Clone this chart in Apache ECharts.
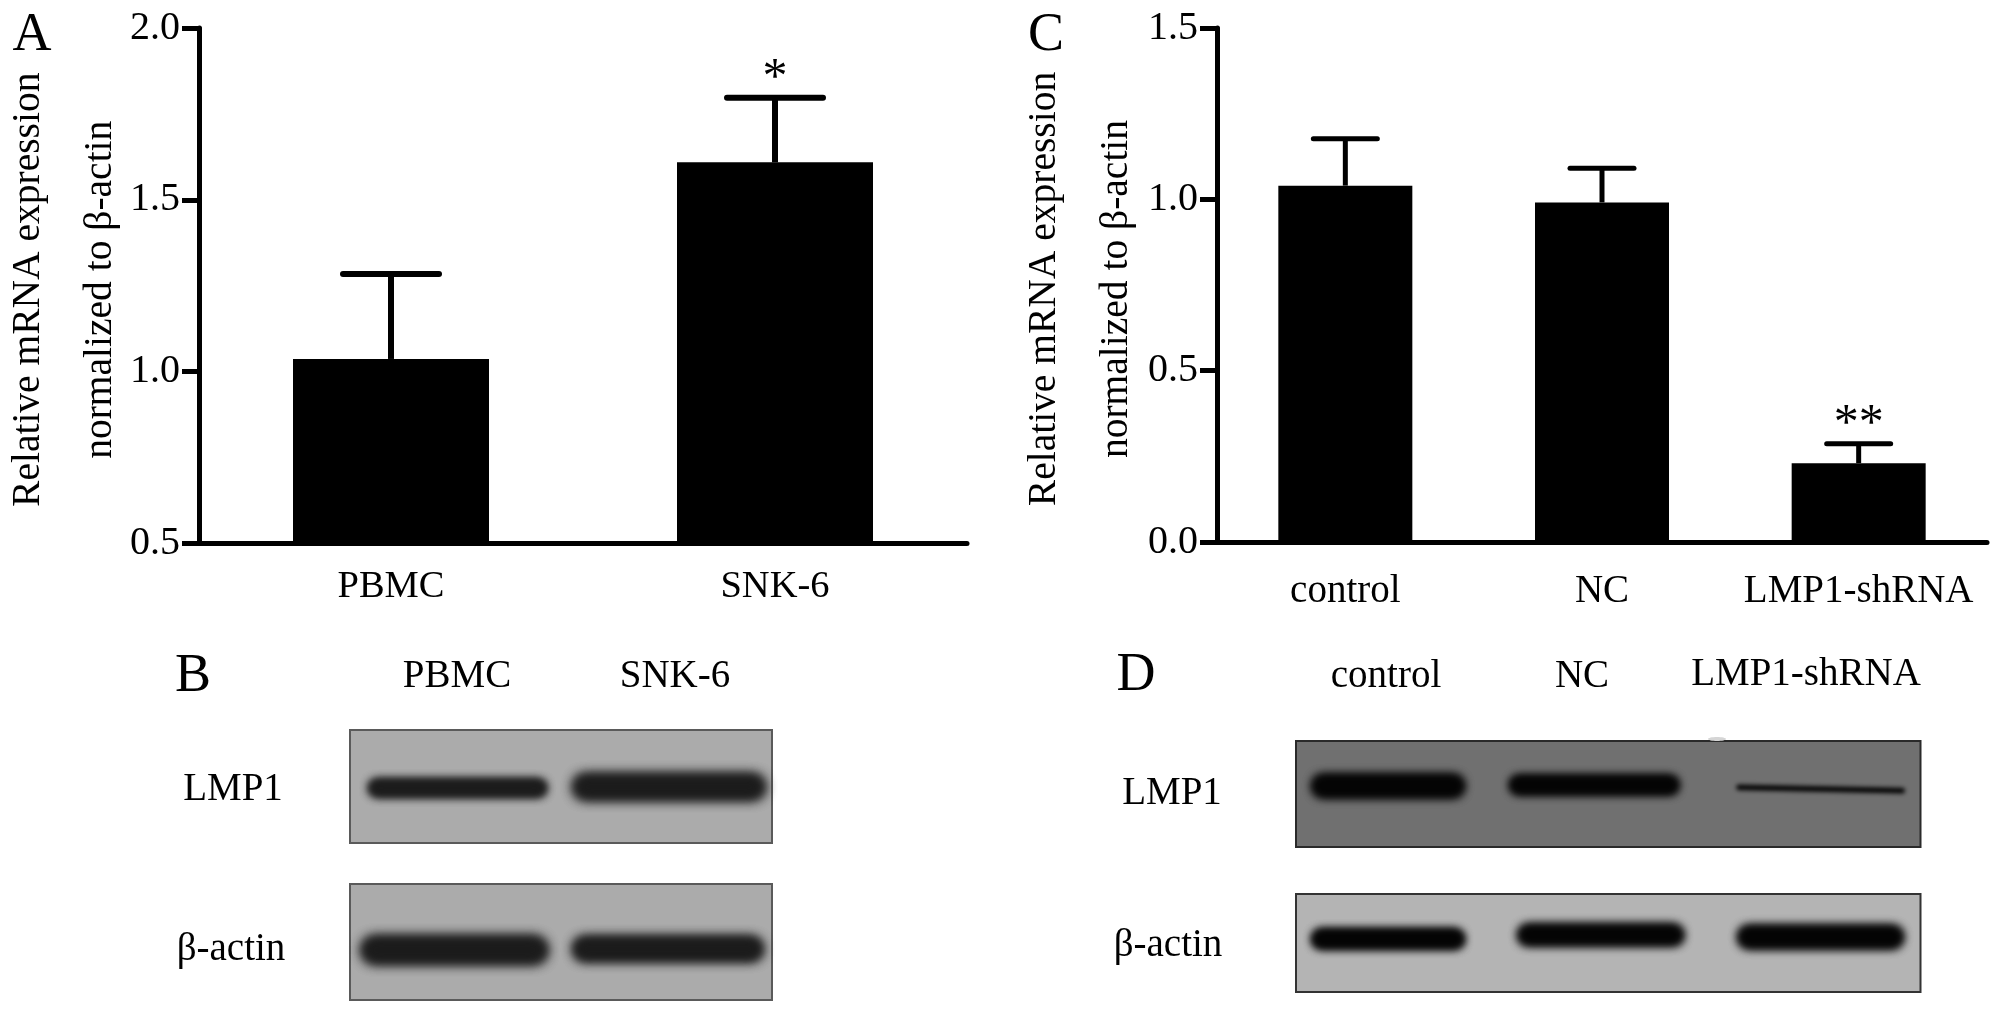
<!DOCTYPE html>
<html><head><meta charset="utf-8">
<style>html,body{margin:0;padding:0;background:#fff}#c{width:2008px;height:1013px}</style>
<script src="https://cdn.jsdelivr.net/npm/echarts@6/dist/echarts.min.js"></script></head>
<body><div id="c"></div>
<script>
// Panel A
const aCategories = ['PBMC', 'SNK-6'];
const aValues = [1.037, 1.609];
const aErrTop = [1.284, 1.797];
const aStars = ['', '*'];
// Panel C
const cCategories = ['control', 'NC', 'LMP1-shRNA'];
const cValues = [1.04, 0.991, 0.23];
const cErrTop = [1.177, 1.091, 0.287];
const cStars = ['', '', '**'];
const yTitle = 'Relative mRNA expression\nnormalized to β-actin';
// Blot bands: [start, end, level, thickness, tilt] as fractions of each blot
const bandsBLmp1 = [[.038,.472,.487,.177,0],[.521,.991,.496,.248,0]];
const bandsBActin = [[.019,.476,.431,.259,0],[.521,.986,.44,.233,0]];
const bandsDLmp1 = [[.021,.274,.575,.236,0],[.338,.617,.585,.198,0],[.703,.977,.547,.06,-.02]];
const bandsDActin = [[.021,.274,.541,.224,0],[.351,.625,.582,.235,0],[.703,.977,.561,.255,0]];

const FONT = '"Liberation Serif", "Times New Roman", serif';
const grids = [], xAxes = [], yAxes = [], series = [];

function barPanel(g, cats, vals, tops, stars, ymin, ymax, barWidth, capHalf, capW, stemW, labelMargin, nameGap, catFont) {
  const i = grids.length;
  grids.push(Object.assign({outerBoundsMode:'none'}, g));
  xAxes.push({gridIndex:i, type:'category', data:cats,
    axisLine:{onZero:false, lineStyle:{color:'#000', width:5}},
    axisTick:{alignWithLabel:true, length:17, lineStyle:{color:'#000', width:5}},
    axisLabel:{color:'#000', fontFamily:FONT, fontSize:catFont, margin:labelMargin, interval:0}});
  yAxes.push({gridIndex:i, type:'value', min:ymin, max:ymax, interval:0.5,
    splitLine:{show:false},
    axisLine:{show:true, lineStyle:{color:'#000', width:5}},
    axisTick:{show:true, length:17, lineStyle:{color:'#000', width:5}},
    axisLabel:{color:'#000', fontFamily:FONT, fontSize:40, margin:19, formatter:v=>v.toFixed(1)},
    name:yTitle, nameLocation:'middle', nameRotate:90, nameGap:nameGap, nameMoveOverlap:false,
    nameTextStyle:{color:'#000', fontFamily:FONT, fontSize:39.5, lineHeight:72, padding:[0,8,0,0]}});
  series.push({type:'bar', xAxisIndex:i, yAxisIndex:i, data:vals, barWidth:barWidth,
    itemStyle:{color:'#000'}, silent:true, animation:false});
  series.push({type:'custom', xAxisIndex:i, yAxisIndex:i, silent:true, animation:false, clip:false,
    data:cats.map((c,k)=>[k, vals[k], tops[k]]),
    encode:{x:0, y:[1,2]},
    renderItem:(p,api)=>{
      const k = api.value(0);
      const base = api.coord([k, api.value(1)]);
      const top = api.coord([k, api.value(2)]);
      const star = stars[k];
      const kids = [
        {type:'line', shape:{x1:top[0], y1:base[1], x2:top[0], y2:top[1]}, style:{stroke:'#000', lineWidth:stemW}},
        {type:'line', shape:{x1:top[0]-capHalf, y1:top[1], x2:top[0]+capHalf, y2:top[1]}, style:{stroke:'#000', lineWidth:capW, lineCap:'round'}}
      ];
      if (star) kids.push({type:'text', style:{text:star, x:top[0], y:top[1]-19, fill:'#000', fontFamily:FONT, fontSize:50, align:'center', verticalAlign:'middle', textAlign:'center', textVerticalAlign:'middle'}});
      return {type:'group', children:kids};
    }});
}

const OFF = 4000;
function blot(rect, bands, bg, border, bandColor) {
  const i = grids.length;
  grids.push(Object.assign({show:true, outerBoundsMode:'none', backgroundColor:bg, borderColor:border, borderWidth:2}, rect));
  xAxes.push({gridIndex:i, type:'value', min:0, max:1, show:false});
  yAxes.push({gridIndex:i, type:'value', min:0, max:1, show:false});
  series.push({type:'custom', xAxisIndex:i, yAxisIndex:i, silent:true, animation:false, clip:false,
    data:bands,
    encode:{x:[0,1], y:2},
    renderItem:(p,api)=>{
      const a = api.coord([api.value(0), api.value(2)]);
      const b = api.coord([api.value(1), api.value(2)]);
      const h = api.size([0, api.value(3)])[1];
      const w = b[0]-a[0];
      const blur = Math.max(4, h*0.4);
      const hh = Math.max(3, h*0.9), ww = w-blur*0.6;
      const one = {type:'rect', shape:{x:-ww/2, y:-hh/2, width:ww, height:hh, r:hh/2},
        x:(a[0]+b[0])/2-OFF, y:a[1], rotation:api.value(4),
        style:{fill:bandColor, shadowBlur:blur, shadowColor:bandColor, shadowOffsetX:OFF}};
      return {type:'group', children:h<10 ? [one] : [one, Object.assign({}, one)]};
    }});
}

barPanel({left:199, top:28, width:768, height:515.5}, aCategories, aValues, aErrTop, aStars, 0.5, 2.0, 196, 48, 6, 6, 24, 62, 38.5);
barPanel({left:1217, top:28, width:770, height:514}, cCategories, cValues, cErrTop, cStars, 0.0, 1.5, 134, 32, 5, 5, 30, 64, 39);
blot({left:350, top:730, width:422, height:113}, bandsBLmp1, '#ababab', '#5a5a5a', '#1c1c1c');
blot({left:350, top:884, width:422, height:116}, bandsBActin, '#ababab', '#5a5a5a', '#1c1c1c');
blot({left:1296, top:741, width:624.5, height:106}, bandsDLmp1, '#707070', '#2a2a2a', '#050505');
blot({left:1296, top:894, width:624.5, height:98}, bandsDActin, '#b4b4b4', '#333333', '#050505');

const texts = [
  ['A',32,36,54],['C',1046,36,54],['B',193,677,54],['D',1136,676,54],
  ['PBMC',457,677,39],['SNK-6',675,677,39],
  ['LMP1',233,790,39],['β-actin',231,950,39],
  ['control',1386,677,39],['NC',1582,677,39],['LMP1-shRNA',1806,675,39],
  ['LMP1',1172,794,39],['β-actin',1168,946,39]
];
const graphic = texts.map(t=>({type:'text', x:t[1], y:t[2], silent:true,
  style:{text:t[0], fill:'#000', fontFamily:FONT, fontSize:t[3], align:'center', verticalAlign:'middle'}}));
graphic.push({type:'ellipse', shape:{cx:1717, cy:739, rx:9, ry:2}, silent:true, style:{fill:'#d5d5d5'}});

const chart = echarts.init(document.getElementById('c'), null, {renderer:'canvas'});
chart.setOption({animation:false, backgroundColor:'#fff', grid:grids, xAxis:xAxes, yAxis:yAxes, series:series, graphic:graphic});
</script></body></html>
